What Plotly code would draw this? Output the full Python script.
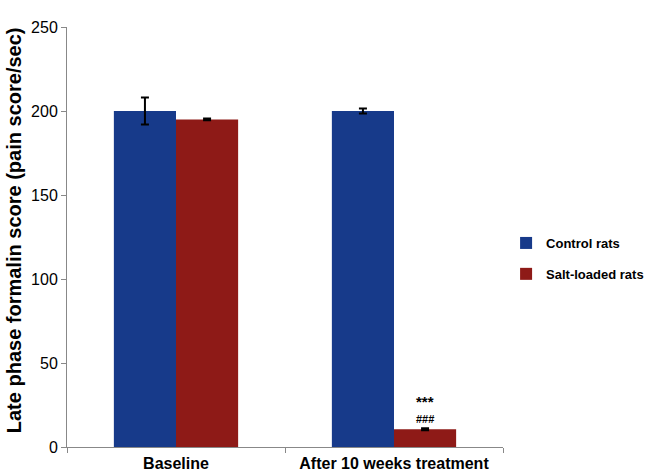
import plotly.graph_objects as go

categories = ["Baseline", "After 10 weeks treatment"]
control_vals = [200, 200]
control_err = [8, 1.5]
salt_vals = [195, 10.5]
salt_err = [0.5, 0.6]
series_names = ["Control rats", "Salt-loaded rats"]
colors = ["#173a8a", "#8e1a17"]
y_ticks = [0, 50, 100, 150, 200, 250]

fig = go.Figure()
for vals, errs, name, col in [(control_vals, control_err, series_names[0], colors[0]),
                              (salt_vals, salt_err, series_names[1], colors[1])]:
    fig.add_trace(go.Bar(
        x=categories, y=vals, name=name, showlegend=False,
        marker=dict(color=col, line=dict(width=0)),
        error_y=dict(type="data", array=errs, color="black", thickness=2, width=4),
    ))
for name, col in zip(series_names, colors):
    fig.add_trace(go.Scatter(
        x=[None], y=[None], mode="markers", name="<b>%s</b>" % name,
        legendgroup=name,
        marker=dict(symbol="square", size=9, color=col),
    ))

fig.add_annotation(x=categories[1], y=salt_vals[1], xshift=31, yshift=28,
                   text="<b>***</b>", showarrow=False,
                   font=dict(size=15, color="black", family="Liberation Sans"))
fig.add_annotation(x=categories[1], y=salt_vals[1], xshift=31, yshift=10,
                   text="<b>###</b>", showarrow=False,
                   font=dict(size=11, color="black", family="Liberation Sans"))
fig.add_annotation(xref="paper", yref="paper", x=-0.123, y=0.517,
                   text="<b>Late phase formalin score (pain score/sec)</b>",
                   textangle=-90, showarrow=False, xanchor="center", yanchor="middle",
                   font=dict(size=20, color="black", family="Liberation Sans"))

fig.update_layout(
    width=648, height=473,
    margin=dict(l=67, r=145, t=27, b=26),
    plot_bgcolor="white", paper_bgcolor="white",
    barmode="group", bargap=0.43, bargroupgap=0,
    font=dict(family="Liberation Sans, Arial, sans-serif", color="black"),
    legend=dict(xref="container", yref="container", x=0.781, y=0.4535,
                xanchor="left", yanchor="middle",
                font=dict(size=13, family="Liberation Sans", color="black"),
                itemwidth=30, tracegroupgap=11, itemsizing="constant"),
    showlegend=True,
)
fig.update_xaxes(
    showline=True, linecolor="#888", linewidth=1,
    ticks="outside", tickson="boundaries", ticklen=5, tickcolor="#888",
    tickfont=dict(size=16, family="Liberation Sans"),
    ticklabelstandoff=2,
    showgrid=False, automargin=False,
    tickvals=categories, ticktext=["<b>%s</b>" % c for c in categories],
)
fig.update_yaxes(
    range=[0, 250], tickvals=y_ticks,
    showline=True, linecolor="#888", linewidth=1,
    ticks="outside", ticklen=5, tickcolor="#888",
    tickfont=dict(size=16, family="Liberation Sans"),
    showgrid=False, zeroline=False, automargin=False,
)

fig.write_html("out.html",
               config={"displayModeBar": False},
               post_script="document.body.style.margin='0';document.body.style.overflow='hidden';")
